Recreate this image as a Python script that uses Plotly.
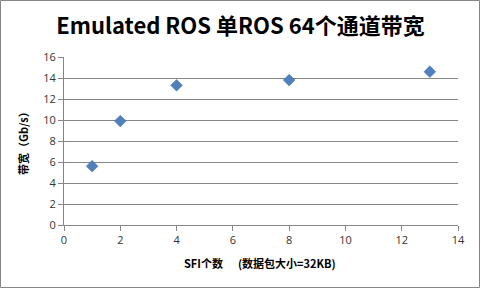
import plotly.graph_objects as go

sfi_counts = [1, 2, 4, 8, 13]
bandwidth = [5.6, 9.9, 13.3, 13.8, 14.6]
title_text = "Emulated ROS 单ROS 64个通道带宽"
x_title = "SFI个数&nbsp;&nbsp;&nbsp;&nbsp;&nbsp;&nbsp;(数据包大小=32KB)"
y_title = "带宽（Gb/s）"

W, H = 481, 289
L, R, T, B = 64, 23, 57, 64
pw, ph = W - L - R, H - T - B

def px_to_paper_x(px):
    return (px - L) / pw

def px_to_paper_y(py):
    return (H - B - py) / ph

fig = go.Figure()
fig.add_trace(go.Scatter(
    x=sfi_counts, y=bandwidth, mode="markers",
    marker=dict(symbol="diamond", size=9, color="#4F81BD",
                line=dict(width=0.5, color="#3F6FA8")),
    showlegend=False,
))

tickfont = dict(family="Open Sans, DejaVu Sans, sans-serif", size=11, color="#333333")
fig.update_layout(
    width=W, height=H,
    margin=dict(l=L, r=R, t=T, b=B),
    paper_bgcolor="white", plot_bgcolor="white",
    title=dict(text="<b>" + title_text + "</b>", x=0.5, xanchor="center",
               y=1 - 26 / H, yanchor="middle",
               font=dict(family="Noto Sans CJK SC, Noto Sans, sans-serif", size=22, color="#000000")),
    xaxis=dict(range=[0, 14], dtick=2, tick0=0, showgrid=False, zeroline=False,
               showline=True, linecolor="#868686", linewidth=1,
               ticks="outside", ticklen=5, tickcolor="#868686", tickfont=tickfont),
    yaxis=dict(range=[0, 16], dtick=2, tick0=0, showgrid=True, gridcolor="#868686", gridwidth=1,
               zeroline=False, showline=True, linecolor="#868686", linewidth=1,
               ticks="outside", ticklen=5, tickcolor="#868686", tickfont=tickfont),
)

titlefont = dict(family="Noto Sans CJK SC, sans-serif", size=11, color="#000000")
fig.add_annotation(text="<b>" + x_title + "</b>", xref="paper", yref="paper",
                   x=px_to_paper_x(260), y=px_to_paper_y(263), showarrow=False,
                   xanchor="center", yanchor="middle", font=titlefont)
fig.add_annotation(text="<b>" + y_title + "</b>", xref="paper", yref="paper",
                   x=px_to_paper_x(23), y=px_to_paper_y(141), showarrow=False,
                   xanchor="center", yanchor="middle", textangle=-90, font=titlefont)

fig.add_shape(type="rect", xref="paper", yref="paper",
              x0=px_to_paper_x(0.5), x1=px_to_paper_x(W - 1.5),
              y0=px_to_paper_y(H - 1.5), y1=px_to_paper_y(0.5),
              line=dict(color="#868686", width=1), fillcolor="rgba(0,0,0,0)", layer="below")

fig.write_html("out.html")
